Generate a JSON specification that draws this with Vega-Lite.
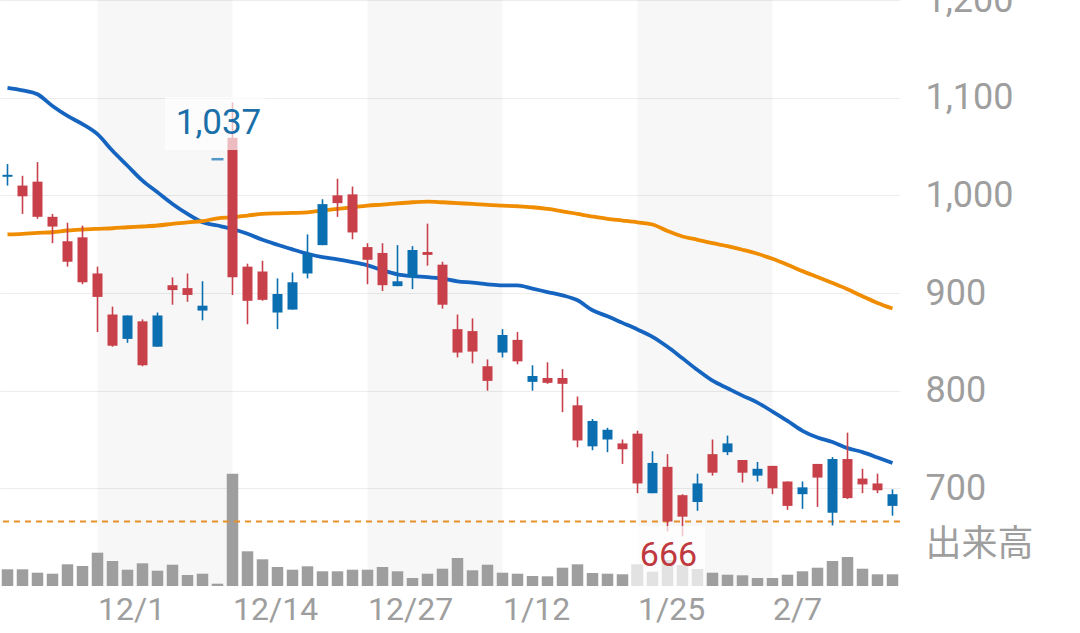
{
  "$schema": "https://vega.github.io/schema/vega-lite/v6.json",
  "description": "Daily candlesticks with 25/75-day moving averages and volume",
  "autosize": {"type": "none"},
  "padding": {"left": 0, "top": 0, "right": 180, "bottom": 47},
  "width": 900,
  "height": 586,
  "background": "white",
  "config": {
    "view": {"stroke": null},
    "axisX": {
      "labelAlign": "left",
      "labelBaseline": "top",
      "labelAngle": 0,
      "labelPadding": 8,
      "labelFont": "Roboto",
      "labelFontSize": 32,
      "labelColor": "#9e9e9e",
      "labelOverlap": false,
      "ticks": false,
      "domain": false,
      "grid": false,
      "title": null
    }
  },
  "datasets": {
    "px": [
      {"d": "2021-11-22", "o": 1019, "h": 1032, "l": 1010, "c": 1021, "v": 16700, "ma25": 1110, "ma75": 960},
      {"d": "2021-11-24", "o": 1010, "h": 1020, "l": 981, "c": 999, "v": 16700, "ma25": 1107.5, "ma75": 960.6},
      {"d": "2021-11-25", "o": 1014, "h": 1034, "l": 976, "c": 978, "v": 13300, "ma25": 1103.5, "ma75": 961.6},
      {"d": "2021-11-26", "o": 978, "h": 981, "l": 951, "c": 968, "v": 12300, "ma25": 1091.5, "ma75": 962.2},
      {"d": "2021-11-29", "o": 953, "h": 972, "l": 927, "c": 932, "v": 21700, "ma25": 1081.3, "ma75": 964},
      {"d": "2021-11-30", "o": 957, "h": 969, "l": 909, "c": 911, "v": 20000, "ma25": 1072.9, "ma75": 965},
      {"d": "2021-12-01", "o": 920, "h": 927, "l": 860, "c": 896, "v": 33300, "ma25": 1062.6, "ma75": 965.7},
      {"d": "2021-12-02", "o": 878, "h": 886, "l": 845, "c": 846, "v": 25000, "ma25": 1045.6, "ma75": 966.3},
      {"d": "2021-12-03", "o": 853, "h": 877, "l": 849, "c": 877, "v": 16300, "ma25": 1030.3, "ma75": 967.3},
      {"d": "2021-12-06", "o": 871, "h": 873, "l": 825, "c": 826, "v": 22700, "ma25": 1015, "ma75": 968.1},
      {"d": "2021-12-07", "o": 845, "h": 880, "l": 845, "c": 877, "v": 15300, "ma25": 1003.1, "ma75": 969.1},
      {"d": "2021-12-08", "o": 908, "h": 916, "l": 888, "c": 903, "v": 21300, "ma25": 991.2, "ma75": 970.8},
      {"d": "2021-12-09", "o": 905, "h": 920, "l": 891, "c": 898, "v": 11000, "ma25": 981, "ma75": 972.4},
      {"d": "2021-12-10", "o": 882, "h": 912, "l": 872, "c": 887, "v": 12300, "ma25": 972.4, "ma75": 973.5},
      {"d": "2021-12-13", "o": 1037, "h": 1037, "l": 1037, "c": 1037, "v": 2300, "ma25": 969.1, "ma75": 976.5},
      {"d": "2021-12-14", "o": 1059, "h": 1095, "l": 898, "c": 916, "v": 112300, "ma25": 965.5, "ma75": 977.5},
      {"d": "2021-12-15", "o": 927, "h": 930, "l": 868, "c": 892, "v": 34700, "ma25": 960.6, "ma75": 979.3},
      {"d": "2021-12-16", "o": 922, "h": 933, "l": 892, "c": 893, "v": 26700, "ma25": 954.5, "ma75": 981},
      {"d": "2021-12-17", "o": 880, "h": 915, "l": 863, "c": 899, "v": 19000, "ma25": 949.4, "ma75": 981.6},
      {"d": "2021-12-20", "o": 883, "h": 921, "l": 883, "c": 911, "v": 16300, "ma25": 944.6, "ma75": 982},
      {"d": "2021-12-21", "o": 920, "h": 960, "l": 915, "c": 940, "v": 19700, "ma25": 940.2, "ma75": 982.6},
      {"d": "2021-12-22", "o": 949, "h": 996, "l": 949, "c": 991, "v": 14700, "ma25": 936.7, "ma75": 984.4},
      {"d": "2021-12-23", "o": 1000, "h": 1017, "l": 978, "c": 992, "v": 14700, "ma25": 934.4, "ma75": 986.1},
      {"d": "2021-12-24", "o": 1001, "h": 1009, "l": 955, "c": 962, "v": 16300, "ma25": 931.6, "ma75": 987.8},
      {"d": "2021-12-27", "o": 947, "h": 951, "l": 909, "c": 934, "v": 16300, "ma25": 928.3, "ma75": 989.5},
      {"d": "2021-12-28", "o": 941, "h": 951, "l": 902, "c": 908, "v": 19000, "ma25": 923.2, "ma75": 990.5},
      {"d": "2021-12-29", "o": 907, "h": 949, "l": 907, "c": 912, "v": 14700, "ma25": 919.1, "ma75": 991.8},
      {"d": "2021-12-30", "o": 916, "h": 948, "l": 904, "c": 944, "v": 8000, "ma25": 917.3, "ma75": 992.9},
      {"d": "2022-01-04", "o": 942, "h": 971, "l": 928, "c": 939, "v": 12300, "ma25": 916.3, "ma75": 993.6},
      {"d": "2022-01-05", "o": 929, "h": 932, "l": 884, "c": 888, "v": 17300, "ma25": 914.7, "ma75": 992.9},
      {"d": "2022-01-06", "o": 863, "h": 878, "l": 834, "c": 839, "v": 28000, "ma25": 911.9, "ma75": 992},
      {"d": "2022-01-07", "o": 861, "h": 874, "l": 828, "c": 840, "v": 15700, "ma25": 910.6, "ma75": 991.2},
      {"d": "2022-01-11", "o": 825, "h": 832, "l": 800, "c": 810, "v": 21300, "ma25": 908.9, "ma75": 990.2},
      {"d": "2022-01-12", "o": 839, "h": 863, "l": 834, "c": 857, "v": 13300, "ma25": 907.8, "ma75": 989.5},
      {"d": "2022-01-13", "o": 852, "h": 860, "l": 827, "c": 830, "v": 12300, "ma25": 907.8, "ma75": 988.8},
      {"d": "2022-01-14", "o": 809, "h": 826, "l": 800, "c": 815, "v": 10000, "ma25": 904.5, "ma75": 987.8},
      {"d": "2022-01-17", "o": 813, "h": 829, "l": 807, "c": 808, "v": 9700, "ma25": 901, "ma75": 986.1},
      {"d": "2022-01-18", "o": 813, "h": 822, "l": 778, "c": 807, "v": 18300, "ma25": 897.6, "ma75": 983.7},
      {"d": "2022-01-19", "o": 785, "h": 794, "l": 742, "c": 749, "v": 21700, "ma25": 892.5, "ma75": 981},
      {"d": "2022-01-20", "o": 743, "h": 771, "l": 739, "c": 769, "v": 13000, "ma25": 882.3, "ma75": 978.3},
      {"d": "2022-01-21", "o": 750, "h": 762, "l": 737, "c": 760, "v": 12300, "ma25": 876.2, "ma75": 975.9},
      {"d": "2022-01-24", "o": 746, "h": 750, "l": 725, "c": 740, "v": 11700, "ma25": 869.4, "ma75": 974.2},
      {"d": "2022-01-25", "o": 756, "h": 759, "l": 695, "c": 705, "v": 21700, "ma25": 862.6, "ma75": 972.4},
      {"d": "2022-01-26", "o": 695, "h": 738, "l": 695, "c": 726, "v": 14300, "ma25": 855.1, "ma75": 970.1},
      {"d": "2022-01-27", "o": 722, "h": 735, "l": 656, "c": 666, "v": 26000, "ma25": 844.9, "ma75": 963.5},
      {"d": "2022-01-28", "o": 693, "h": 694, "l": 651, "c": 671, "v": 21000, "ma25": 833.1, "ma75": 957.9},
      {"d": "2022-01-31", "o": 686, "h": 715, "l": 677, "c": 705, "v": 17000, "ma25": 821.1, "ma75": 954.5},
      {"d": "2022-02-01", "o": 735, "h": 750, "l": 713, "c": 716, "v": 13300, "ma25": 810.2, "ma75": 951},
      {"d": "2022-02-02", "o": 737, "h": 754, "l": 734, "c": 746, "v": 11300, "ma25": 802.5, "ma75": 948},
      {"d": "2022-02-03", "o": 729, "h": 729, "l": 706, "c": 716, "v": 10700, "ma25": 794.9, "ma75": 944.3},
      {"d": "2022-02-04", "o": 713, "h": 727, "l": 707, "c": 720, "v": 8000, "ma25": 787.8, "ma75": 940.2},
      {"d": "2022-02-07", "o": 723, "h": 723, "l": 694, "c": 700, "v": 8000, "ma25": 778.6, "ma75": 935.1},
      {"d": "2022-02-08", "o": 707, "h": 707, "l": 678, "c": 682, "v": 11300, "ma25": 769.1, "ma75": 929},
      {"d": "2022-02-09", "o": 694, "h": 707, "l": 679, "c": 701, "v": 14700, "ma25": 758.9, "ma75": 922.4},
      {"d": "2022-02-10", "o": 725, "h": 725, "l": 681, "c": 711, "v": 18300, "ma25": 752, "ma75": 916.3},
      {"d": "2022-02-14", "o": 675, "h": 732, "l": 662, "c": 730, "v": 25000, "ma25": 747.4, "ma75": 910.2},
      {"d": "2022-02-15", "o": 730, "h": 757, "l": 689, "c": 690, "v": 29000, "ma25": 741.2, "ma75": 903.8},
      {"d": "2022-02-16", "o": 710, "h": 720, "l": 695, "c": 704, "v": 17300, "ma25": 737.1, "ma75": 896.6},
      {"d": "2022-02-17", "o": 705, "h": 715, "l": 695, "c": 698, "v": 11700, "ma25": 731.6, "ma75": 889.8},
      {"d": "2022-02-18", "o": 682, "h": 699, "l": 672, "c": 694, "v": 11700, "ma25": 725.9, "ma75": 884.1}
    ],
    "bands": [
      {"s": "2021-12-01", "e": "2021-12-14"},
      {"s": "2021-12-27", "e": "2022-01-12"},
      {"s": "2022-01-25", "e": "2022-02-07"}
    ]
  },
  "layer": [
    {
      "data": {"name": "bands"},
      "mark": {"type": "rect", "color": "#000000", "opacity": 0.03},
      "encoding": {
        "x": {
          "field": "s",
          "type": "ordinal",
          "scale": {"type": "point", "padding": 0.5},
          "axis": {
            "values": ["2021-12-01", "2021-12-14", "2021-12-27", "2022-01-12", "2022-01-25", "2022-02-07"],
            "labelExpr": "toNumber(slice(datum.value, 5, 7)) + '/' + toNumber(slice(datum.value, 8, 10))"
          }
        },
        "x2": {"field": "e"}
      }
    },
    {
      "data": {"name": "px"},
      "mark": {"type": "bar", "size": 11.5, "color": "#9e9e9e"},
      "encoding": {
        "x": {
          "field": "d",
          "type": "ordinal",
          "scale": {"type": "point", "padding": 0.5},
          "axis": {
            "values": ["2021-12-01", "2021-12-14", "2021-12-27", "2022-01-12", "2022-01-25", "2022-02-07"],
            "labelExpr": "toNumber(slice(datum.value, 5, 7)) + '/' + toNumber(slice(datum.value, 8, 10))"
          }
        },
        "y": {"field": "v", "type": "quantitative", "title": null, "scale": {"domain": [0, 586000], "nice": false, "zero": true}, "axis": null}
      }
    },
    {
      "data": {"name": "px"},
      "layer": [
        {
          "mark": {"type": "rule", "color": "#e8902a", "strokeWidth": 2, "strokeDash": [6, 5]},
          "encoding": {
            "y": {
              "aggregate": "min",
              "field": "c",
              "type": "quantitative",
              "title": null,
              "scale": {"domain": [600, 1200], "nice": false, "zero": false},
              "axis": {
                "orient": "right",
                "values": [642, 700, 800, 900, 1000, 1100, 1200],
                "labelExpr": "datum.value < 650 ? '出来高' : format(datum.value, ',')",
                "labelAlign": "left",
                "labelBaseline": "middle",
                "labelPadding": 25,
                "labelFont": "Roboto, 'Noto Sans CJK JP', sans-serif",
                "labelFontSize": 36,
                "labelColor": "#9e9e9e",
                "labelFlush": false,
                "labelOverlap": false,
                "labelBound": false,
                "ticks": false,
                "domain": false,
                "grid": true,
                "gridColor": "#ececec",
                "gridWidth": 1,
                "gridOpacity": {"condition": {"test": "datum.value < 650", "value": 0}, "value": 1}
              }
            }
          }
        },
        {
          "encoding": {
            "x": {
              "field": "d",
              "type": "ordinal",
              "scale": {"type": "point", "padding": 0.5},
              "axis": {
                "values": ["2021-12-01", "2021-12-14", "2021-12-27", "2022-01-12", "2022-01-25", "2022-02-07"],
                "labelExpr": "toNumber(slice(datum.value, 5, 7)) + '/' + toNumber(slice(datum.value, 8, 10))"
              }
            }
          },
          "layer": [
            {
              "mark": {"type": "line", "color": "#1565c0", "strokeWidth": 3.8, "interpolate": "monotone"},
              "encoding": {"y": {"field": "ma25", "type": "quantitative", "title": null}}
            },
            {
              "mark": {"type": "line", "color": "#f08c00", "strokeWidth": 3.8, "interpolate": "monotone"},
              "encoding": {"y": {"field": "ma75", "type": "quantitative", "title": null}}
            },
            {
              "mark": {"type": "rule", "strokeWidth": 1.6},
              "encoding": {
                "y": {"field": "l", "type": "quantitative", "title": null},
                "y2": {"field": "h"},
                "color": {"condition": {"test": "datum.c >= datum.o", "value": "#0b6eb0"}, "value": "#c8414a"}
              }
            },
            {
              "mark": {"type": "bar", "size": 10},
              "encoding": {
                "y": {"field": "o", "type": "quantitative", "title": null},
                "y2": {"field": "c"},
                "color": {"condition": {"test": "datum.c >= datum.o", "value": "#0b6eb0"}, "value": "#c8414a"}
              }
            },
            {
              "transform": [{"filter": "datum.o == datum.c"}],
              "mark": {"type": "tick", "orient": "horizontal", "size": 12, "thickness": 2.5},
              "encoding": {
                "y": {"field": "c", "type": "quantitative", "title": null},
                "color": {"condition": {"test": "datum.c >= datum.o", "value": "#0b6eb0"}, "value": "#c8414a"}
              }
            },
            {
              "transform": [
                {"joinaggregate": [{"op": "max", "field": "c", "as": "maxc"}]},
                {"filter": "datum.c == datum.maxc"}
              ],
              "layer": [
                {
                  "mark": {"type": "point", "shape": "M-1,-0.53H1V0.53H-1Z", "size": 10000, "filled": true, "color": "#ffffff", "opacity": 0.65, "strokeWidth": 0, "xOffset": -2.5, "yOffset": -35.7},
                  "encoding": {"y": {"field": "c", "type": "quantitative", "title": null}}
                },
                {
                  "mark": {"type": "text", "font": "Roboto", "fontSize": 35, "color": "#1a6fa8", "baseline": "middle", "align": "center", "dx": 1, "dy": -36},
                  "encoding": {
                    "y": {"field": "c", "type": "quantitative", "title": null},
                    "text": {"field": "c", "type": "quantitative", "format": ","}
                  }
                }
              ]
            },
            {
              "transform": [
                {"joinaggregate": [{"op": "min", "field": "c", "as": "minc"}]},
                {"filter": "datum.c == datum.minc"}
              ],
              "layer": [
                {
                  "mark": {"type": "point", "shape": "M-1,-0.85H1V0.85H-1Z", "size": 5329, "filled": true, "color": "#ffffff", "opacity": 0.7, "strokeWidth": 0, "xOffset": 1, "yOffset": 35.5},
                  "encoding": {"y": {"field": "c", "type": "quantitative", "title": null}}
                },
                {
                  "mark": {"type": "text", "font": "Roboto", "fontSize": 34, "color": "#c0393f", "baseline": "middle", "align": "center", "dx": 1, "dy": 34.5},
                  "encoding": {
                    "y": {"field": "c", "type": "quantitative", "title": null},
                    "text": {"field": "c", "type": "quantitative", "format": ","}
                  }
                }
              ]
            }
          ]
        }
      ]
    }
  ],
  "resolve": {"scale": {"y": "independent"}}
}
